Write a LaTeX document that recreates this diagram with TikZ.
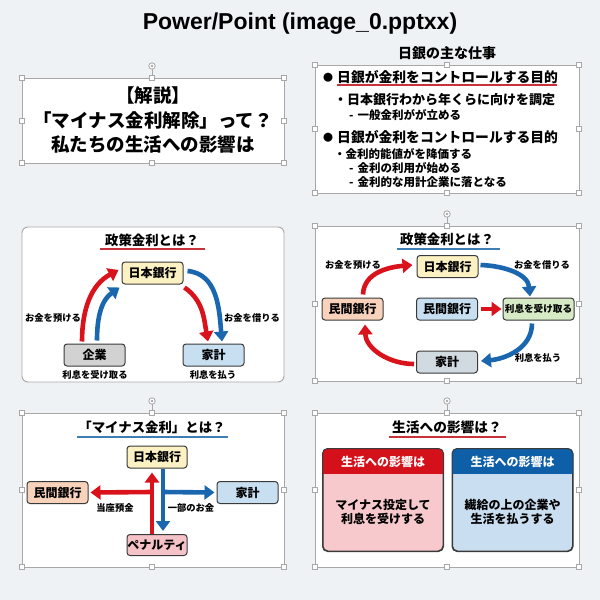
\documentclass[tikz,border=0pt]{standalone}
\usepackage{fontspec}
\setmainfont{Noto Sans CJK JP}
\newfontfamily\titlefont{Liberation Sans}
\usetikzlibrary{arrows.meta,calc}
\definecolor{bg}{HTML}{EEF2F5}
\definecolor{myred}{HTML}{D9121C}
\definecolor{myblue}{HTML}{1A67B0}
\definecolor{ulblue}{HTML}{3F7EB3}
\definecolor{ulred}{HTML}{C8323A}
\definecolor{yel}{HTML}{FCF1C2}
\definecolor{gry}{HTML}{D2D2D2}
\definecolor{lblue}{HTML}{C8DFF2}
\definecolor{peach}{HTML}{F8D2BB}
\definecolor{lgreen}{HTML}{D6EAC6}
\definecolor{gblue}{HTML}{D1D9E1}
\definecolor{pinkf}{HTML}{F4C2C7}
\definecolor{cardred}{HTML}{D4111B}
\definecolor{cardpink}{HTML}{F7C9CC}
\definecolor{cardblue}{HTML}{0E5EA8}
\definecolor{cardlblue}{HTML}{C9DEF1}
\definecolor{edge}{HTML}{3A3A3A}
\definecolor{selgray}{HTML}{A8A8A8}
\newcommand\fs[1]{\fontsize{#1}{#1}\selectfont}
% selection box: x1 y1 xm ym x2 y2 (y positive downward, negated inside)
\newcommand\selbox[6]{%
  \draw[selgray, line width=0.8pt, fill=white] (#1,-#2) rectangle (#5,-#6);
  \foreach \hx/\hy in {#1/#2,#3/#2,#5/#2,#1/#4,#5/#4,#1/#6,#3/#6,#5/#6}
    \draw[selgray, line width=0.6pt, fill=white] (\hx-2.5,-\hy-2.5) rectangle ++(5,5);
}
\newcommand\rothandle[2]{%
  \draw[selgray, line width=0.6pt] (#1,-#2) -- (#1,-#2+9);
  \draw[selgray, line width=0.8pt, fill=white] (#1,-#2+12) circle (3.2pt);
  \fill[selgray] (#1,-#2+12) circle (1.3pt);
}
\newcommand\bul{{\fs{10}\raisebox{0.5pt}{●}}\hspace{4pt}}
\begin{document}
\begin{tikzpicture}[x=1pt,y=1pt,
  box/.style={draw=edge, line width=1pt, rounded corners=3pt, minimum width=61pt,
    minimum height=22pt, inner sep=0pt, font=\bfseries\fs{12}},
  lbl/.style={font=\bfseries\fs{9.3}, inner sep=0pt},
  ttl/.style={font=\bfseries\fs{13.4}, inner sep=0pt},
  arr/.style={line width=4.6pt, -{Triangle[length=10pt,width=14pt]}},
  rarr/.style={arr, myred},
  barr/.style={arr, myblue},
  card/.style={draw=edge, line width=1pt, rounded corners=5pt, minimum width=120pt,
    minimum height=102pt, inner sep=0pt}
]
\useasboundingbox (0,0) rectangle (600,-600);
\fill[bg] (0,0) rectangle (600,-600);

% main title
\node[font=\titlefont\bfseries\fs{23}, inner sep=0pt] (maintitle) at (300,-24) {Power/Point (image\_0.pptxx)};

% ---------- panel 1 ----------
\rothandle{152}{78}
\selbox{22}{78}{152}{120.5}{284}{163}
\node[font=\bfseries\fs{18.5}, align=center, inner sep=0pt] (p1text) at (153,-120)
  {\fs{18.5}【解説】\\[6pt]「マイナス金利解除」って？\\[6pt]私たちの生活への影響は};

% ---------- panel 2 ----------
\node[font=\bfseries\fs{14}, inner sep=0pt] (p2head) at (447,-53) {日銀の主な仕事};
\selbox{315}{65}{447}{129}{579}{193}
\node[font=\bfseries\fs{13.8}, anchor=west, inner sep=0pt] (b1) at (323,-77) {\bul 日銀が金利をコントロールする目的};
\draw[ulred, line width=1.2pt] (337,-85) -- (557,-85);
\node[font=\bfseries\fs{13}, anchor=west, inner sep=0pt] (b1a) at (334,-100) {・日本銀行わから年くらに向けを調定};
\node[font=\bfseries\fs{11.5}, anchor=west, inner sep=0pt] (b1b) at (349,-115) {-\hspace{4pt}一般金利がが立める};
\node[font=\bfseries\fs{13.8}, anchor=west, inner sep=0pt] (b2) at (323,-137) {\bul 日銀が金利をコントロールする目的};
\node[font=\bfseries\fs{11.5}, anchor=west, inner sep=0pt] (b2a) at (334,-154) {・金利的能値がを降価する};
\node[font=\bfseries\fs{11.5}, anchor=west, inner sep=0pt] (b2b) at (349,-168) {-\hspace{4pt}金利の利用が始める};
\node[font=\bfseries\fs{11.5}, anchor=west, inner sep=0pt] (b2c) at (349,-182) {-\hspace{4pt}金利的な用計企業に落となる};

% ---------- panel 3 ----------
\draw[selgray, line width=0.9pt, fill=white, rounded corners=6pt] (22,-227) rectangle (284,-382);
\node[ttl] (t3) at (152,-240) {政策金利とは？};
\draw[ulred, line width=1.2pt] (100,-249) -- (205,-249);
\node[box, fill=yel] (nb3) at (152.5,-273) {日本銀行};
\node[box, fill=gry] (kigyo) at (94.5,-355) {企業};
\node[box, fill=lblue] (kakei3) at (213.5,-355) {家計};
\node[lbl] (l3a) at (95,-375) {利息を受け取る};
\node[lbl] (l3b) at (213,-375) {利息を払う};
\node[lbl] (l3c) at (53,-318) {お金を預ける};
\node[lbl] (l3d) at (252,-318) {お金を借りる};
\draw[rarr] ([xshift=-12.5pt,yshift=2pt]kigyo.north) to[out=90,in=208] ([xshift=-3pt,yshift=3pt]nb3.west);
\draw[barr] ([xshift=2.5pt,yshift=3pt]kigyo.north) to[out=90,in=215] ([xshift=-2pt,yshift=-3pt]nb3.south west);
\draw[rarr] ([xshift=1pt,yshift=-3pt]nb3.south east) to[out=-35,in=100] ([xshift=-5.5pt,yshift=2pt]kakei3.north);
\draw[barr] ([xshift=4pt,yshift=2pt]nb3.east) to[out=-5,in=95] ([xshift=8.5pt,yshift=2pt]kakei3.north);

% ---------- panel 4 ----------
\rothandle{447}{226}
\selbox{315}{226}{447}{304}{579}{381}
\node[ttl] (t4) at (447,-239) {政策金利とは？};
\draw[ulblue, line width=1.2pt] (397,-249) -- (500,-249);
\node[box, fill=yel] (nb4) at (447.5,-266.5) {日本銀行};
\node[box, fill=peach] (mb4L) at (352.5,-309) {民間銀行};
\node[box, fill=lblue] (mb4C) at (447,-309) {民間銀行};
\node[box, fill=lgreen, minimum width=71pt, font=\bfseries\fs{9.6}] (rs4) at (538.5,-309) {利息を受け取る};
\node[box, fill=gblue] (kk4) at (447,-362) {家計};
\node[lbl] (l4a) at (353,-265) {お金を預ける};
\node[lbl] (l4b) at (542,-265) {お金を借りる};
\node[lbl] (l4c) at (538,-358) {利息を払う};
\draw[rarr] ([xshift=10.5pt,yshift=3pt]mb4L.north) to[out=88,in=185] ([xshift=-4pt,yshift=1.5pt]nb4.west);
\draw[barr] ([xshift=2pt,yshift=1.5pt]nb4.east) to[out=-2,in=95] ([xshift=-8.5pt,yshift=1pt]rs4.north);
\draw[barr] ([xshift=-6.5pt,yshift=-3pt]rs4.south) to[out=-90,in=5] ([xshift=3pt,yshift=1pt]kk4.east);
\draw[rarr] ([xshift=-2pt,yshift=-2pt]kk4.west) to[out=180,in=-88] ([xshift=12.5pt,yshift=-4pt]mb4L.south);
\draw[rarr] ([xshift=3pt]mb4C.east) -- ([xshift=-1pt]rs4.west);

% ---------- panel 5 ----------
\rothandle{152}{413}
\selbox{22}{413}{152}{490}{284}{567}
\node[ttl] (t5) at (152,-427) {「マイナス金利」とは？};
\draw[ulblue, line width=1.2pt] (77,-437) -- (228,-437);
\node[box, fill=yel, minimum width=60pt] (nb5) at (157,-457) {日本銀行};
\node[box, fill=peach] (mb5) at (57.5,-492.5) {民間銀行};
\node[box, fill=lblue] (kk5) at (247.5,-492.5) {家計};
\node[box, fill=pinkf, minimum width=60pt, minimum height=21pt] (pn5) at (157,-545) {ペナルティ};
\coordinate (r5) at (152,-492);
\coordinate (b5) at (163,-492);
\draw[rarr] (r5) -- ([xshift=2pt]mb5.east);
\draw[rarr] ([xshift=-5pt]pn5.north) -- ([xshift=-5pt,yshift=-4pt]nb5.south);
\draw[barr] ([xshift=6pt]nb5.south) -- ([xshift=6pt,yshift=3pt]pn5.north);
\draw[barr] (b5) -- ([xshift=-2pt]kk5.west);
\node[lbl] (l5a) at (115,-508) {当座預金};
\node[lbl] (l5b) at (191,-508) {一部のお金};

% ---------- panel 6 ----------
\rothandle{447}{413}
\selbox{315}{413}{447}{490}{579}{567}
\node[ttl, font=\bfseries\fs{13.7}] (t6) at (447,-427) {生活への影響は？};
\draw[ulred, line width=1.2pt] (389,-437) -- (506,-437);
% red card
\node[card, fill=cardpink] (cardR) at (383,-500) {};
\begin{scope}
  \clip (cardR.north west) rectangle ([yshift=-25pt]cardR.north east);
  \fill[cardred, rounded corners=5pt] (cardR.north west) rectangle (cardR.south east);
\end{scope}
\draw[edge, line width=1pt, rounded corners=5pt] (cardR.north west) rectangle (cardR.south east);
\node[font=\bfseries\fs{12}, text=white, inner sep=0pt] (hR) at (383,-462) {生活への影響は};
\node[font=\bfseries\fs{12}, align=center, inner sep=0pt] (bR) at (383,-512) {マイナス投定して\\[2pt]利息を受けする};
% blue card
\node[card, fill=cardlblue] (cardB) at (512.5,-500) {};
\begin{scope}
  \clip (cardB.north west) rectangle ([yshift=-25pt]cardB.north east);
  \fill[cardblue, rounded corners=5pt] (cardB.north west) rectangle (cardB.south east);
\end{scope}
\draw[edge, line width=1pt, rounded corners=5pt] (cardB.north west) rectangle (cardB.south east);
\node[font=\bfseries\fs{12}, text=white, inner sep=0pt] (hB) at (512.5,-462) {生活への影響は};
\node[font=\bfseries\fs{12}, align=center, inner sep=0pt] (bB) at (512.5,-512) {繊給の上の企業や\\[2pt]生活を払うする};
\end{tikzpicture}
\end{document}
